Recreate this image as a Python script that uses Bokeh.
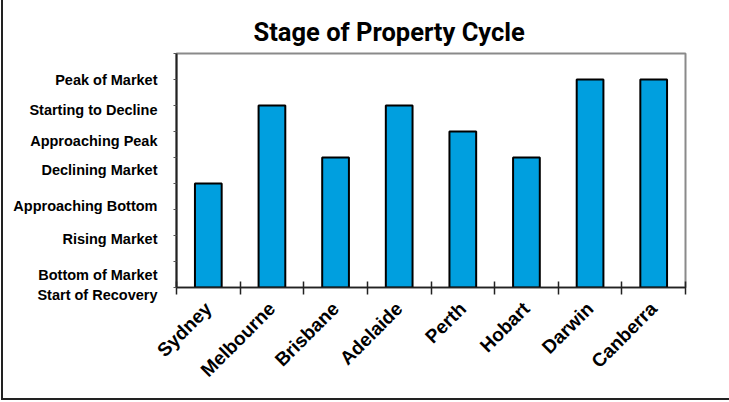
import math
from bokeh.plotting import figure
from bokeh.models import Range1d, FixedTicker
from bokeh.embed import file_html
from bokeh.resources import INLINE

cities = ["Sydney", "Melbourne", "Brisbane", "Adelaide", "Perth", "Hobart", "Darwin", "Canberra"]
stage = [4, 7, 5, 7, 6, 5, 8, 8]
stage_labels = ["Peak of Market", "Starting to Decline", "Approaching Peak", "Declining Market",
                "Approaching Bottom", "Rising Market", "Bottom of Market\nStart of Recovery"]
stage_label_pos = [8.0, 6.81, 5.63, 4.51, 3.15, 1.88, 0.10]
y_max = 9

x = [i + 0.5 for i in range(len(cities))]

W, H = 728, 400
p = figure(width=W, height=H, output_backend="svg", toolbar_location=None,
           x_range=Range1d(0, len(cities)), y_range=Range1d(0, y_max),
           min_border_left=173, min_border_right=W - 682, min_border_top=53,
           min_border_bottom=H - 287)

p.vbar(x=x, top=stage, bottom=0, width=0.42, fill_color="#009FDF",
       line_color="black", line_width=2)

p.title.text = "Stage of Property Cycle"
p.title.align = "left"
p.title.offset = 77
p.title.standoff = 13
p.title.text_font = "Roboto"
p.title.text_font_size = "25.5px"
p.title.text_font_style = "bold"
p.title.text_color = "black"

p.xgrid.visible = False
p.ygrid.visible = False
p.outline_line_color = "#8a8a8a"
p.outline_line_width = 2
p.background_fill_color = "white"
p.border_fill_color = "white"

xa = p.xaxis[0]
xa.ticker = FixedTicker(ticks=x, minor_ticks=list(range(len(cities) + 1)))
xa.major_label_overrides = {xi: c for xi, c in zip(x, cities)}
xa.major_tick_line_color = None
xa.major_tick_in = 0
xa.major_tick_out = 0
xa.minor_tick_in = 6
xa.minor_tick_out = 7
xa.minor_tick_line_color = "#222222"
xa.minor_tick_line_width = 1.5
xa.axis_line_color = "#222222"
xa.axis_line_width = 1.5
xa.major_label_orientation = math.pi / 4
xa.major_label_standoff = 11
xa.major_label_text_font = "Liberation Sans"
xa.major_label_text_font_style = "bold"
xa.major_label_text_font_size = "19px"
xa.major_label_text_color = "black"

ya = p.yaxis[0]
ya.ticker = FixedTicker(ticks=stage_label_pos, minor_ticks=list(range(y_max + 1)))
ya.major_label_overrides = {v: s for v, s in zip(stage_label_pos, stage_labels)}
ya.major_tick_line_color = None
ya.major_tick_in = 0
ya.major_tick_out = 0
ya.minor_tick_in = 0
ya.minor_tick_out = 3
ya.minor_tick_line_color = "#555555"
ya.axis_line_color = "#222222"
ya.axis_line_width = 2
ya.major_label_standoff = 16
ya.major_label_text_font = "Liberation Sans"
ya.major_label_text_font_style = "bold"
ya.major_label_text_font_size = "14.5px"
ya.major_label_text_color = "black"

p.styles = {"border-left": "2px solid #222222", "border-bottom": "2px solid #222222",
            "margin-left": "1px"}

open("out.html", "w").write(file_html(p, INLINE))
